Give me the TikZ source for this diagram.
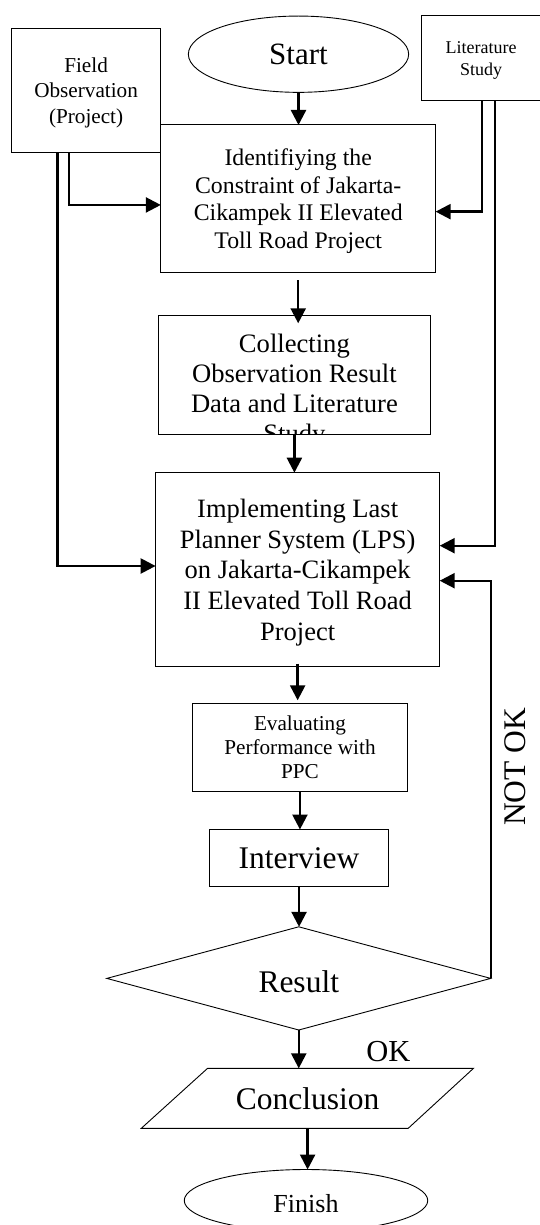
\documentclass[tikz,border=0pt]{standalone}
\usepackage{fontspec}
\setmainfont{Liberation Serif}
\usetikzlibrary{arrows.meta,shapes.geometric}
\newcommand\myfs[2]{\fontsize{#1}{#2}\selectfont}
\tikzset{
  box/.style={draw, line width=1pt, rectangle, inner sep=0pt, outer sep=0pt, align=center, text depth=0pt},
  oval/.style={draw, line width=0.9pt, ellipse, inner sep=0pt, outer sep=0pt, align=center},
  arr/.style={line width=2.4pt, -{Triangle[length=15pt,width=15pt]}},
}
\begin{document}
\begin{tikzpicture}[x=1pt,y=-1pt]
\clip (0,0) rectangle (540,1225);
\fill[white] (0,0) rectangle (540,1225);

% nodes
\node[oval, minimum width=220.3pt, minimum height=76.3pt, font=\myfs{31}{36}] (start) at (298.5,54.2) {Start};
\node[box, minimum width=149.4pt, minimum height=123.6pt, font=\myfs{21.2}{25.8}] (field) at (86.1,90.5) {Field\\Observation\\(Project)};
\node[box, minimum width=120pt, minimum height=85pt, font=\myfs{18}{21.7}] (lit) at (481,58.5) {Literature\\Study};
\node[box, minimum width=274.8pt, minimum height=147.3pt, font=\myfs{23.8}{27.8}] (ident) at (298.2,198.65) {Identifiying the\\Constraint of Jakarta-\\Cikampek II Elevated\\Toll Road Project};
\node[box, minimum width=272pt, minimum height=119.4pt] (coll) at (294.4,375) {};
\begin{scope}
\clip (coll.south west) rectangle (coll.north east);
\node[inner sep=0pt, align=center, font=\myfs{26.6}{30}] (colltext) at (294.4,391) {Collecting\\Observation Result\\Data and Literature\\Study};
\end{scope}
\node[box, minimum width=284.1pt, minimum height=194pt, font=\myfs{26.5}{30.8}] (impl) at (297.65,569.7) {Implementing Last\\Planner System (LPS)\\on Jakarta-Cikampek\\II Elevated Toll Road\\Project};
\node[box, minimum width=214.9pt, minimum height=87.9pt, font=\myfs{21.2}{24}] (eval) at (299.95,747.25) {Evaluating\\Performance with\\PPC};
\node[box, minimum width=178.7pt, minimum height=57pt, font=\myfs{31.5}{36}] (interview) at (299.05,858) {Interview};
\node[diamond, draw, line width=0.9pt, inner sep=0pt, outer sep=0pt, minimum width=383.9pt, minimum height=103.2pt, font=\myfs{31.5}{36}] (result) at (298.75,978.4) {\raisebox{-3.5pt}[0.66em][0pt]{Result}};
\node[inner sep=0pt, outer sep=0pt, minimum height=60.1pt, font=\myfs{31.5}{36}] (concl) at (307.6,1098.4) {Conclusion};
\draw[line width=0.9pt] (207.6,1068.3) -- (473.5,1068.3) -- (408.1,1128.4) -- (141.2,1128.4) -- cycle;
\node[oval, minimum width=243.5pt, minimum height=62pt, font=\myfs{26}{30}] (finish) at (306,1200.5) {\raisebox{-3.5pt}[0.66em][0pt]{Finish}};

% labels
\node[font=\myfs{30.5}{36}, inner sep=0pt] (oklab) at (388.4,1051.2) {OK};
\node[font=\myfs{31.5}{36}, inner sep=0pt, rotate=90] (notoklab) at (514.8,766.9) {NOT OK};

% connectors
\draw[arr] (start.south) -- (start.south |- ident.north);
\draw[arr] ([yshift=-8pt]ident.south) -- ([yshift=-8pt]ident.south |- coll.north);
\draw[arr] (coll.south) -- (coll.south |- impl.north);
\draw[arr] ([yshift=3pt]impl.south) -- ([yshift=3pt]impl.south |- eval.north);
\draw[arr] (eval.south) -- (eval.south |- interview.north);
\draw[arr] (interview.south) -- (interview.south |- result.north);
\draw[arr] (result.south) -- (result.south |- concl.north);
\draw[arr] (concl.south) -- (concl.south |- finish.north);

\draw[arr] ([xshift=57.5pt]field.south west) |- ([yshift=-6.3pt]ident.west);
\draw[arr] ([xshift=46.1pt]field.south west) |- ([yshift=3.7pt]impl.west);
\draw[arr] ([xshift=61pt]lit.south west) |- ([yshift=-13pt]ident.east);
\draw[arr] ([xshift=73.8pt]lit.south west) |- ([yshift=24pt]impl.east);
\draw[arr] (result.east) |- ([yshift=-11pt]impl.east);
\end{tikzpicture}
\end{document}
